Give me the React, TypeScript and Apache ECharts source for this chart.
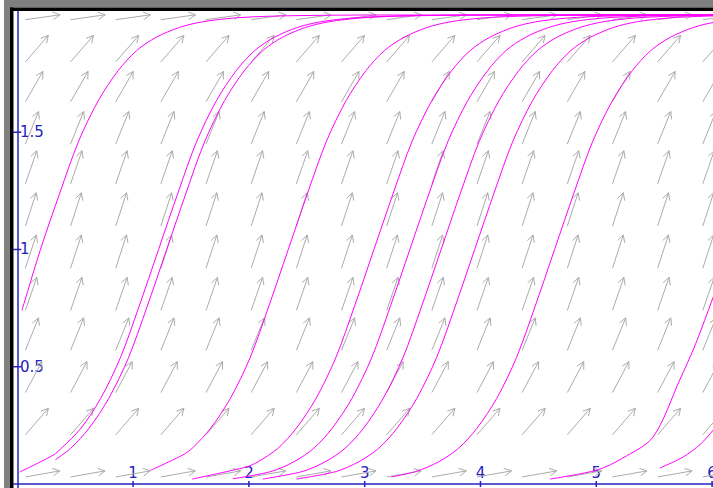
import React, { useEffect, useRef } from "react";
import * as echarts from "echarts";

// Axis window and ticks
const X_MIN = -0.0285;
const X_MAX = 6.008;
const Y_MIN = -0.0171;
const Y_MAX = 2.017;
const xTicks = [1, 2, 3, 4, 5, 6];
const yTicks = [0.5, 1, 1.5];

// Direction field: arrow tails on a grid, slope angle (screen degrees) per row
const arrowCols = [0.07, 0.46, 0.85, 1.24, 1.63, 2.02, 2.41, 2.8, 3.19, 3.58, 3.97, 4.36, 4.75, 5.14, 5.53, 5.92];
const arrowRows = [1.98, 1.8, 1.63, 1.45, 1.28, 1.1, 0.92, 0.74, 0.57, 0.39, 0.21, 0.03];
const arrowAngles = [8, 49, 60, 68, 71, 72, 72, 71, 68, 62, 49, 10];

// Solution curves [x, y]
const curve1 = [[0.04,0.74],[0.2,1.0],[0.37,1.245],[0.53,1.462],[0.7,1.635],[0.87,1.762],[1.03,1.848],[1.2,1.905],[1.4,1.947],[1.6,1.971],[1.87,1.987],[2.2,1.995],[2.7,1.999],[3.2,2.0],[6.1,2.0]];
const curve2 = [[0.02,0.051],[0.31,0.123],[0.38,0.152],[0.55,0.238],[0.72,0.365],[0.89,0.538],[1.05,0.755],[1.22,1.0],[1.39,1.245],[1.55,1.462],[1.72,1.635],[1.89,1.762],[2.05,1.848],[2.22,1.905],[2.42,1.947],[2.62,1.971],[2.89,1.987],[3.22,1.995],[3.72,1.999],[4.22,2.0],[6.1,2.0]];
const curve3 = [[0.33,0.104],[0.46,0.152],[0.62,0.238],[0.79,0.365],[0.96,0.538],[1.12,0.755],[1.29,1.0],[1.46,1.245],[1.62,1.462],[1.79,1.635],[1.96,1.762],[2.12,1.848],[2.29,1.905],[2.49,1.947],[2.69,1.971],[2.96,1.987],[3.29,1.995],[3.79,1.999],[4.29,2.0],[6.1,2.0]];
const curve4 = [[1.15,0.058],[1.43,0.124],[1.51,0.152],[1.67,0.238],[1.84,0.365],[2.01,0.538],[2.17,0.755],[2.34,1.0],[2.51,1.245],[2.67,1.462],[2.84,1.635],[3.01,1.762],[3.17,1.848],[3.34,1.905],[3.54,1.947],[3.74,1.971],[4.01,1.987],[4.34,1.995],[4.84,1.999],[5.34,2.0],[6.1,2.0]];
const curve5 = [[1.51,0.021],[1.98,0.073],[2.08,0.095],[2.25,0.152],[2.41,0.238],[2.58,0.365],[2.75,0.538],[2.91,0.755],[3.08,1.0],[3.25,1.245],[3.41,1.462],[3.58,1.635],[3.75,1.762],[3.91,1.848],[4.08,1.905],[4.28,1.947],[4.48,1.971],[4.75,1.987],[5.08,1.995],[5.58,1.999],[6.1,2.0]];
const curve6 = [[1.86,0.022],[2.19,0.053],[2.39,0.095],[2.56,0.152],[2.72,0.238],[2.89,0.365],[3.06,0.538],[3.22,0.755],[3.39,1.0],[3.56,1.245],[3.72,1.462],[3.89,1.635],[4.06,1.762],[4.22,1.848],[4.39,1.905],[4.59,1.947],[4.79,1.971],[5.06,1.987],[5.39,1.995],[5.89,1.999],[6.1,2.0]];
const curve7 = [[2.12,0.021],[2.46,0.053],[2.66,0.095],[2.83,0.152],[2.99,0.238],[3.16,0.365],[3.33,0.538],[3.49,0.755],[3.66,1.0],[3.83,1.245],[3.99,1.462],[4.16,1.635],[4.33,1.762],[4.49,1.848],[4.66,1.905],[4.86,1.947],[5.06,1.971],[5.33,1.987],[5.66,1.995],[6.16,1.999]];
const curve8 = [[2.41,0.021],[2.75,0.053],[2.95,0.095],[3.12,0.152],[3.28,0.238],[3.45,0.365],[3.62,0.538],[3.78,0.755],[3.95,1.0],[4.12,1.245],[4.28,1.462],[4.45,1.635],[4.62,1.762],[4.78,1.848],[4.95,1.905],[5.15,1.947],[5.35,1.971],[5.62,1.987],[5.95,1.995],[6.45,1.999]];
const curve9 = [[3.23,0.03],[3.44,0.053],[3.64,0.095],[3.81,0.152],[3.97,0.238],[4.14,0.365],[4.31,0.538],[4.47,0.755],[4.64,1.0],[4.81,1.245],[4.97,1.462],[5.14,1.635],[5.31,1.762],[5.47,1.848],[5.64,1.905],[5.84,1.947],[6.04,1.971],[6.3,1.987]];
const curve10 = [[4.6,0.021],[5.01,0.06],[5.23,0.111],[5.49,0.2],[5.72,0.443],[5.86,0.6],[6.01,0.797],[6.15,0.98]];
const curve11 = [[5.55,0.068],[5.75,0.115],[5.9,0.17],[6.01,0.23],[6.1,0.29]];
const curves = [curve1, curve2, curve3, curve4, curve5, curve6, curve7, curve8, curve9, curve10, curve11];

const BLUE = "#2323c0";
const ARROW = "#ababab";
const MAGENTA = "#ff00ff";

export default function App() {
  const ref = useRef<HTMLDivElement>(null);
  useEffect(() => {
    if (!ref.current) return;
    const chart = echarts.init(ref.current, null, { renderer: "svg" });

    const arrowData: number[][] = [];
    arrowRows.forEach((y, j) => {
      arrowCols.forEach((x) => arrowData.push([x, y, arrowAngles[j]]));
    });
    const tickData: number[][] = [];
    xTicks.forEach((v) => tickData.push([v, 0, 0]));
    yTicks.forEach((v) => tickData.push([0, v, 1]));

    const L = 35;
    const H = 8;
    const HA = (28 * Math.PI) / 180;

    const option: any = {
      animation: false,
      backgroundColor: "#ffffff",
      grid: { left: 14, top: 11, right: 0, bottom: 0, containLabel: false, outerBoundsMode: "none" },
      xAxis: {
        type: "value",
        min: X_MIN,
        max: X_MAX,
        splitLine: { show: false },
        axisLine: { show: true, onZero: true, lineStyle: { color: BLUE, width: 1.5 } },
        axisTick: { show: false },
        axisLabel: {
          show: true,
          inside: true,
          customValues: xTicks,
          color: BLUE,
          fontSize: 15,
          fontFamily: "DejaVu Sans",
          margin: 8,
          showMaxLabel: true,
          hideOverlap: false,
        },
      },
      yAxis: {
        type: "value",
        min: Y_MIN,
        max: Y_MAX,
        splitLine: { show: false },
        axisLine: { show: true, onZero: true, lineStyle: { color: BLUE, width: 1.5 } },
        axisTick: { show: false },
        axisLabel: {
          show: true,
          inside: true,
          customValues: yTicks,
          color: BLUE,
          fontSize: 15,
          fontFamily: "DejaVu Sans",
          margin: 6,
          verticalAlign: "middle",
        },
      },
      series: [
        {
          type: "custom",
          name: "field",
          silent: true,
          clip: false,
          z: 1,
          data: arrowData,
          encode: { x: 0, y: 1 },
          renderItem: (_p: any, api: any) => {
            const a = (api.value(2) * Math.PI) / 180;
            const p = api.coord([api.value(0), api.value(1)]);
            const hx = p[0] + L * Math.cos(a);
            const hy = p[1] - L * Math.sin(a);
            const b = a + Math.PI;
            const w1 = [hx + H * Math.cos(b + HA), hy - H * Math.sin(b + HA)];
            const w2 = [hx + H * Math.cos(b - HA), hy - H * Math.sin(b - HA)];
            return {
              type: "group",
              children: [
                { type: "polyline", shape: { points: [p, [hx, hy]] }, style: { stroke: ARROW, lineWidth: 1, fill: null } },
                { type: "polyline", shape: { points: [w1, [hx, hy], w2] }, style: { stroke: ARROW, lineWidth: 1, fill: null } },
              ],
            };
          },
        },
        ...curves.map((c, i) => ({
          type: "line",
          name: "curve" + (i + 1),
          data: c,
          showSymbol: false,
          symbol: "none",
          silent: true,
          clip: true,
          smooth: 0.3,
          z: 3,
          lineStyle: { color: MAGENTA, width: 1 },
        })),
        {
          type: "custom",
          name: "ticks",
          silent: true,
          clip: false,
          z: 4,
          data: tickData,
          encode: { x: 0, y: 1 },
          renderItem: (_p: any, api: any) => {
            const p = api.coord([api.value(0), api.value(1)]);
            const vertical = api.value(2) === 0;
            const pts = vertical ? [[p[0], p[1] - 3], [p[0], p[1] + 3]] : [[p[0] - 4, p[1]], [p[0] + 4, p[1]]];
            return { type: "polyline", shape: { points: pts }, style: { stroke: BLUE, lineWidth: 1.5, fill: null } };
          },
        },
      ],
      graphic: [
        { type: "rect", z: 100, shape: { x: 4, y: 0, width: 709, height: 7.5 }, style: { fill: "#808080" } },
        { type: "rect", z: 100, shape: { x: 4, y: 0, width: 6, height: 488 }, style: { fill: "#808080" } },
        { type: "rect", z: 100, shape: { x: 10, y: 7.5, width: 703, height: 3.5 }, style: { fill: "#000000" } },
        { type: "rect", z: 100, shape: { x: 10, y: 7.5, width: 3.5, height: 481 }, style: { fill: "#000000" } },
      ],
    };
    chart.setOption(option);
    return () => chart.dispose();
  }, []);

  return (
    <div
      ref={ref}
      style={{ position: "absolute", left: 0, top: 0, width: 713, height: 488, background: "#fff" }}
    />
  );
}
